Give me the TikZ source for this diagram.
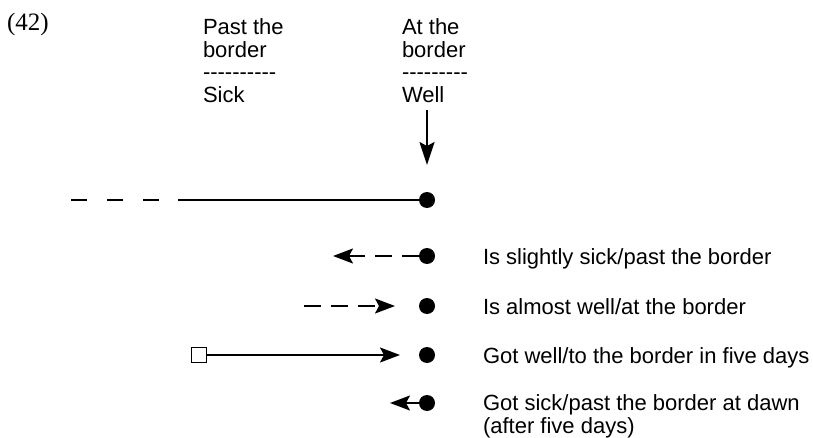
\documentclass[tikz,border=0pt]{standalone}
\usepackage{fontspec}
\setmainfont{Liberation Sans}
\newfontfamily\exnumfont{Liberation Serif}
\usetikzlibrary{arrows.meta}

\begin{document}
\begin{tikzpicture}[
		x=1pt, y=-1pt, line width=2pt,
		every node/.style={inner sep=0pt, outer sep=0pt},
		label text/.style={anchor=base west, align=left, font=\fontsize{22}{22.5}\selectfont},
		state/.style={circle, fill=black, minimum size=16pt},
		source/.style={draw, fill=white, minimum size=15pt, line width=1.5pt},
		tip/.style={-{Stealth[length=20pt, width=15pt, inset=4pt]}}
		]
		
		\useasboundingbox (0,0) rectangle (813,438);
		
		\node[anchor=base west, font=\exnumfont\fontsize{25}{27}\selectfont] (exnum) at (7,31) {(42)};
		% last line baselines
		\node[label text] (past) at (203,102.5) {Past the\\border\\-{}-{}-{}-{}-{}-{}-{}-{}-{}-\\Sick};
		\node[label text] (at) at (402,102.5) {At the\\border\\-{}-{}-{}-{}-{}-{}-{}-{}-\\Well};
		
		\coordinate (wellfoot) at (427,110);
		\coordinate (welltip) at (427,165);
		\draw[-{Stealth[length=23pt, width=15pt, inset=4pt]}] (wellfoot) -- (welltip);
		
		\node[state] (now) at (427,200) {};
		\node[state] (slight) at (427,256) {};
		\node[state] (almost) at (427,306) {};
		\node[state] (gotwell) at (427,355) {};
		\node[state] (gotsick) at (427,403) {};
		
		% timeline
		\coordinate (farleft) at (71,200);
		\coordinate (dashend) at (159,200);
		\coordinate (solidstart) at (178,200);
		\draw[dash pattern=on 16pt off 20pt] (farleft) -- (dashend);
		\draw (solidstart) -- (now);
		
		\coordinate (slighttip) at (333,256);
		\draw[tip, dash pattern=on 17pt off 10pt] (slight) -- (slighttip);
		
		\coordinate (almoststart) at (304,306);
		\coordinate (almosttip) at (395,306);
		\draw[tip, dash pattern=on 17pt off 10pt] (almoststart) -- (almosttip);
		
		\node[source] (start) at (199,355) {};
		\coordinate (gotwelltip) at (400,355);
		\draw[tip] (start.east) -- (gotwelltip);
		
		\coordinate (gotsicktip) at (390,403);
		\draw[tip] (gotsick) -- (gotsicktip);
		
		\node[label text] (slighttext) at (483,264) {Is slightly sick/past the border};
		\node[label text] (almosttext) at (483,314) {Is almost well/at the border};
		\node[label text] (gotwelltext) at (483,363) {Got well/to the border in five days};
		\node[label text] (gotsicktext) at (483,433) {Got sick/past the border at dawn\\(after five days)};
		
	\end{tikzpicture}
\end{document}
